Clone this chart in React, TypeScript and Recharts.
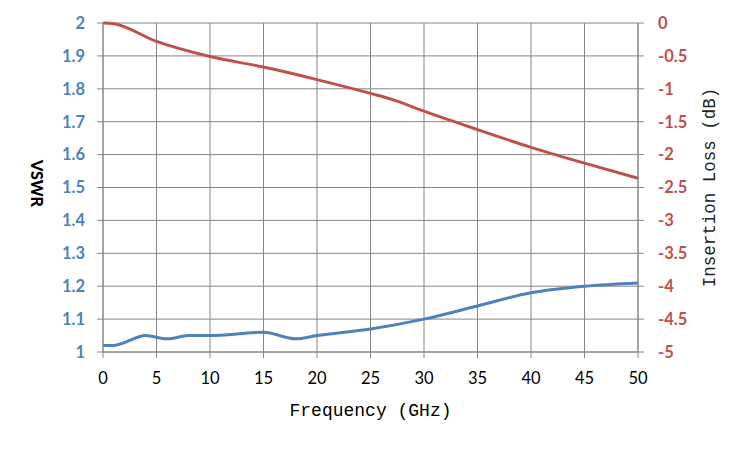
import React from 'react';
import { LineChart, Line, XAxis, YAxis, CartesianGrid, Label } from 'recharts';

const blueFreq = [0, 1, 4, 6, 8, 10, 15, 18, 20, 25, 30, 35, 40, 45, 50];
const vswrValues = [1.02, 1.02, 1.05, 1.04, 1.05, 1.05, 1.06, 1.04, 1.05, 1.07, 1.1, 1.14, 1.18, 1.2, 1.21];

const redFreq = [0, 1, 5, 10, 15, 20, 25, 27, 30, 35, 40, 45, 50];
const lossValues = [0, -0.01, -0.28, -0.51, -0.67, -0.86, -1.07, -1.16, -1.34, -1.62, -1.89, -2.13, -2.36];

const xTicks = [0, 5, 10, 15, 20, 25, 30, 35, 40, 45, 50];
const vswrTicks = [1, 1.1, 1.2, 1.3, 1.4, 1.5, 1.6, 1.7, 1.8, 1.9, 2];
const lossTicks = [0, -0.5, -1, -1.5, -2, -2.5, -3, -3.5, -4, -4.5, -5];

const vswrData = blueFreq.map((f, i) => ({ freq: f, vswr: vswrValues[i] }));
const lossData = redFreq.map((f, i) => ({ freq: f, loss: lossValues[i] }));

const BLUE = '#4F81BD';
const RED = '#C0504D';
const GRID = '#868686';
const MONO = '"Liberation Mono", monospace';
const SANS = 'Lato, "Open Sans", sans-serif';

const VswrLabel = (props: any) => {
  const vb = props.viewBox || { x: 0, y: 0, width: 0, height: 0 };
  const cx = vb.x + 29;
  const cy = vb.y + vb.height / 2 - 4;
  return (
    <text
      x={cx}
      y={cy}
      transform={`rotate(90 ${cx} ${cy})`}
      textAnchor="middle"
      dominantBaseline="central"
      fontFamily={SANS}
      fontWeight={900}
      fontSize={16}
      fill="#000"
    >
      VSWR
    </text>
  );
};

const LossLabel = (props: any) => {
  const vb = props.viewBox || { x: 0, y: 0, width: 0, height: 0 };
  const cx = vb.x + 72;
  const cy = vb.y + vb.height / 2;
  return (
    <text
      x={cx}
      y={cy}
      transform={`rotate(-90 ${cx} ${cy})`}
      textAnchor="middle"
      dominantBaseline="central"
      fontFamily={MONO}
      fontSize={17.5}
      fill="#222"
    >
      Insertion Loss (dB)
    </text>
  );
};

export default function App() {
  return (
    <div style={{ width: 750, height: 450, fontFamily: SANS }}>
      <LineChart width={750} height={450} margin={{ top: 15, right: 30, bottom: 36, left: 0 }}>
        <CartesianGrid yAxisId="left" stroke={GRID} strokeWidth={1} vertical horizontal />
        <XAxis
          dataKey="freq"
          type="number"
          domain={[0, 50]}
          ticks={xTicks}
          allowDuplicatedCategory={false}
          height={70}
          tickSize={6}
          tickMargin={14}
          stroke={GRID}
          tickLine={{ stroke: GRID }}
          axisLine={{ stroke: GRID }}
          tick={{ fill: '#000', fontSize: 16.5, fontFamily: SANS }}
        >
          <Label
            value="Frequency (GHz)"
            position="insideBottom"
            offset={6}
            style={{ fontFamily: MONO, fontSize: 18, fill: '#000' }}
          />
        </XAxis>
        <YAxis
          yAxisId="left"
          orientation="left"
          width={95}
          domain={[1, 2]}
          ticks={vswrTicks}
          tickSize={6}
          tickMargin={12}
          stroke={GRID}
          tickLine={{ stroke: GRID }}
          axisLine={{ stroke: GRID }}
          tick={{ fill: BLUE, fontSize: 16.5, fontWeight: 'bold', fontFamily: SANS }}
        >
          <Label content={VswrLabel} />
        </YAxis>
        <YAxis
          yAxisId="right"
          orientation="right"
          width={90}
          domain={[-5, 0]}
          ticks={lossTicks}
          tickSize={6}
          tickMargin={14}
          stroke={GRID}
          tickLine={{ stroke: GRID }}
          axisLine={{ stroke: GRID }}
          tick={{ fill: RED, fontSize: 16.5, fontWeight: 'bold', fontFamily: SANS }}
        >
          <Label content={LossLabel} />
        </YAxis>
        <Line
          yAxisId="left"
          data={vswrData}
          dataKey="vswr"
          type="monotone"
          stroke={BLUE}
          strokeWidth={3}
          dot={false}
          activeDot={false}
          isAnimationActive={false}
        />
        <Line
          yAxisId="right"
          data={lossData}
          dataKey="loss"
          type="monotone"
          stroke={RED}
          strokeWidth={3}
          dot={false}
          activeDot={false}
          isAnimationActive={false}
        />
      </LineChart>
    </div>
  );
}
